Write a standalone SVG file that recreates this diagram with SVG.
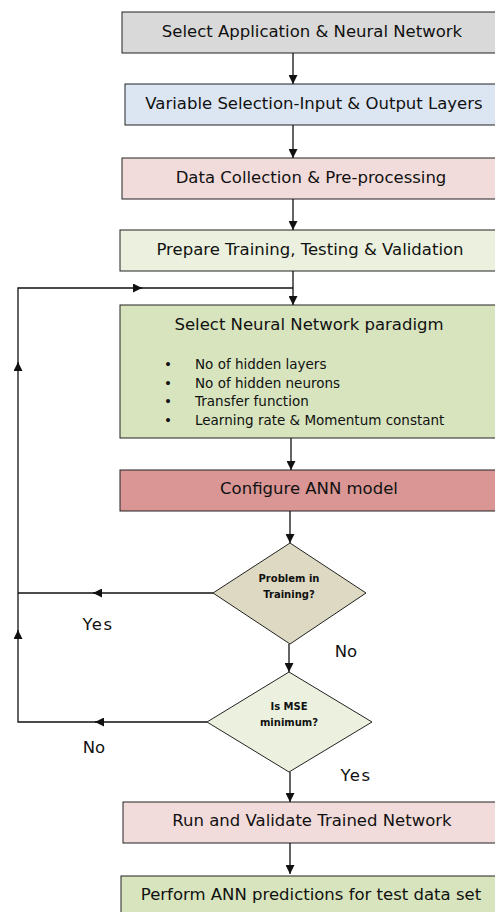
<svg xmlns="http://www.w3.org/2000/svg" width="495" height="912" viewBox="0 0 495 912">
<style>
.box{stroke:#222;stroke-width:1}
.t{font-family:"DejaVu Sans",Verdana,sans-serif;font-size:16.5px;fill:#111;text-anchor:middle}
.b{font-family:"DejaVu Sans",Verdana,sans-serif;font-size:13.5px;fill:#111}
.d{font-family:"DejaVu Sans",Verdana,sans-serif;font-size:10px;font-weight:bold;fill:#111;text-anchor:middle}
.c{fill:none;stroke:#111;stroke-width:1.3}
</style>
<defs>
<marker id="ah" viewBox="0 0 10 10" refX="10" refY="5" markerWidth="9" markerHeight="9" markerUnits="userSpaceOnUse" orient="auto">
<path d="M0,0 L10,5 L0,10 Z" fill="#111"/>
</marker>
</defs>
<rect width="495" height="912" fill="#fff"/>
<g id="n1"><rect class="box" x="122" y="12" width="380" height="41" fill="#d9d9d9"/><text class="t" x="312" y="37">Select Application &amp; Neural Network</text></g>
<g id="n2"><rect class="box" x="125" y="84" width="377" height="41" fill="#dce6f2"/><text class="t" x="314" y="109">Variable Selection-Input &amp; Output Layers</text></g>
<g id="n3"><rect class="box" x="122" y="158" width="380" height="41" fill="#f2dcdb"/><text class="t" x="311" y="183">Data Collection &amp; Pre-processing</text></g>
<g id="n4"><rect class="box" x="120" y="230" width="382" height="41" fill="#ebf1de"/><text class="t" x="310" y="255">Prepare Training, Testing &amp; Validation</text></g>
<g id="n5"><rect class="box" x="120" y="305" width="382" height="133" fill="#d7e4bd"/><text class="t" x="309" y="330">Select Neural Network paradigm</text>
<text class="b" x="164" y="369">•</text><text class="b" x="195" y="369">No of hidden layers</text>
<text class="b" x="164" y="388">•</text><text class="b" x="195" y="388">No of hidden neurons</text>
<text class="b" x="164" y="406">•</text><text class="b" x="195" y="406">Transfer function</text>
<text class="b" x="164" y="425">•</text><text class="b" x="195" y="425">Learning rate &amp; Momentum constant</text></g>
<g id="n6"><rect class="box" x="120" y="470" width="382" height="41" fill="#d99694"/><text class="t" x="309" y="494">Configure ANN model</text></g>
<g id="d1"><polygon class="box" points="290,543 366,593 290,644 213,593" fill="#ddd9c3"/><text class="d" x="289" y="582">Problem in</text><text class="d" x="289" y="598">Training?</text></g>
<g id="d2"><polygon class="box" points="289,672 372,722 289,772 207,722" fill="#ebf1de"/><text class="d" x="289" y="710">Is MSE</text><text class="d" x="289" y="726">minimum?</text></g>
<g id="n7"><rect class="box" x="123" y="802" width="379" height="41" fill="#f2dcdb"/><text class="t" x="312" y="826">Run and Validate Trained Network</text></g>
<g id="n8"><rect class="box" x="121" y="876" width="381" height="41" fill="#d7e4bd"/><text class="t" x="311" y="900">Perform ANN predictions for test data set</text></g>
<g id="connectors">
<path class="c" d="M293,53 V84" marker-end="url(#ah)"/>
<path class="c" d="M293,125 V158" marker-end="url(#ah)"/>
<path class="c" d="M293,199 V230" marker-end="url(#ah)"/>
<path class="c" d="M293,271 V305" marker-end="url(#ah)"/>
<path class="c" d="M291,438 V470" marker-end="url(#ah)"/>
<path class="c" d="M290,511 V543" marker-end="url(#ah)"/>
<path class="c" d="M289,644 V672" marker-end="url(#ah)"/>
<path class="c" d="M290,772 V802" marker-end="url(#ah)"/>
<path class="c" d="M290,843 V874" marker-end="url(#ah)"/>
<path class="c" d="M213,593 H93" marker-end="url(#ah)"/>
<path class="c" d="M95,593 H18"/>
<path class="c" d="M207,722 H95" marker-end="url(#ah)"/>
<path class="c" d="M97,722 H18 V630" marker-end="url(#ah)"/>
<path class="c" d="M18,632 V362" marker-end="url(#ah)"/>
<path class="c" d="M18,365 V288 H142" marker-end="url(#ah)"/>
<path class="c" d="M140,288 H293"/>
<text class="t" x="98" y="630" style="letter-spacing:1.5px">Yes</text>
<text class="t" x="346" y="657">No</text>
<text class="t" x="94" y="753">No</text>
<text class="t" x="356" y="781" style="letter-spacing:1.5px">Yes</text>
</g>
</svg>
